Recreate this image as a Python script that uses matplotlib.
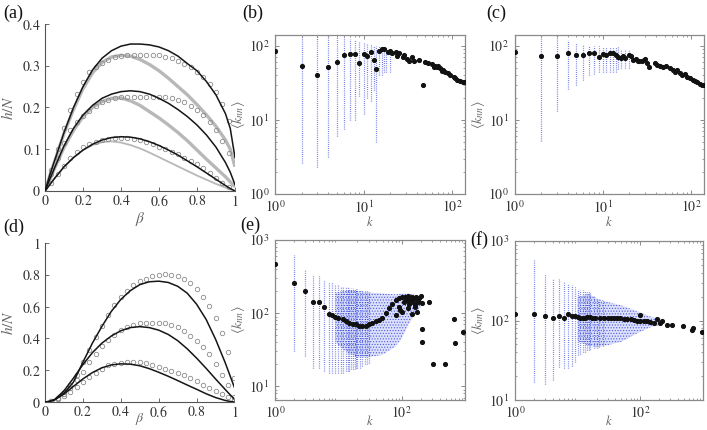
import matplotlib
matplotlib.use('Agg')
import matplotlib.pyplot as plt
from matplotlib.ticker import FixedLocator, FixedFormatter, LogLocator, NullFormatter

plt.rcParams['font.family'] = ['Liberation Serif', 'DejaVu Serif']
plt.rcParams['mathtext.fontset'] = 'stix'
plt.rcParams['hatch.linewidth'] = 0.5

# ---------------- data: panels (a) and (d) ----------------
beta_grid = [0, 0.025, 0.05, 0.1, 0.15, 0.2, 0.25, 0.3, 0.35, 0.4, 0.45, 0.5,
             0.55, 0.6, 0.65, 0.7, 0.75, 0.8, 0.85, 0.9, 0.95, 0.975, 1.0]

a_black_top = [0, 0.038, 0.072, 0.14, 0.2, 0.25, 0.29, 0.318, 0.336, 0.347, 0.352, 0.352,
               0.35, 0.345, 0.336, 0.323, 0.305, 0.288, 0.262, 0.23, 0.185, 0.15, 0.08]
a_black_mid = [0, 0.028, 0.055, 0.108, 0.15, 0.182, 0.205, 0.222, 0.232, 0.238, 0.24, 0.238,
               0.232, 0.222, 0.21, 0.195, 0.178, 0.158, 0.134, 0.105, 0.068, 0.045, 0.015]
a_black_bot = [0, 0.015, 0.03, 0.058, 0.08, 0.098, 0.112, 0.122, 0.128, 0.13, 0.129, 0.125,
               0.118, 0.109, 0.098, 0.086, 0.072, 0.058, 0.043, 0.028, 0.013, 0.006, 0.0]
a_gray_top = [0, 0.036, 0.07, 0.138, 0.195, 0.245, 0.283, 0.308, 0.321, 0.325, 0.323, 0.315,
              0.303, 0.288, 0.27, 0.25, 0.23, 0.207, 0.182, 0.155, 0.122, 0.1, 0.058]
a_gray_mid = [0, 0.027, 0.054, 0.104, 0.145, 0.178, 0.2, 0.214, 0.222, 0.223, 0.216, 0.205,
              0.19, 0.175, 0.158, 0.14, 0.12, 0.098, 0.076, 0.055, 0.034, 0.022, 0.01]
a_gray_bot = [0, 0.015, 0.03, 0.057, 0.08, 0.098, 0.11, 0.117, 0.119, 0.116, 0.11, 0.102,
              0.092, 0.081, 0.07, 0.059, 0.048, 0.037, 0.027, 0.017, 0.008, 0.004, 0.0]

beta_circ_a = [j / 30 for j in range(1, 30)]
a_circ_top = [0.05, 0.1, 0.15, 0.195, 0.232, 0.262, 0.284, 0.296, 0.306, 0.314, 0.32, 0.323,
              0.325, 0.326, 0.326, 0.326, 0.326, 0.325, 0.322, 0.318, 0.312, 0.304, 0.296,
              0.284, 0.272, 0.256, 0.236, 0.208, 0.168]
a_circ_mid = [0.04, 0.08, 0.115, 0.145, 0.165, 0.18, 0.192, 0.204, 0.214, 0.219, 0.223, 0.225,
              0.226, 0.226, 0.226, 0.226, 0.226, 0.226, 0.224, 0.222, 0.218, 0.212, 0.204,
              0.194, 0.182, 0.166, 0.146, 0.12, 0.09]
a_circ_bot = [0.02, 0.04, 0.06, 0.078, 0.094, 0.105, 0.112, 0.118, 0.122, 0.125, 0.126, 0.126,
              0.126, 0.125, 0.122, 0.118, 0.112, 0.106, 0.1, 0.094, 0.088, 0.08, 0.072,
              0.064, 0.054, 0.044, 0.032, 0.02, 0.01]

d_black_top = [0, 0.003, 0.012, 0.055, 0.125, 0.25, 0.37, 0.475, 0.57, 0.645, 0.7, 0.738,
               0.756, 0.76, 0.752, 0.728, 0.685, 0.615, 0.52, 0.395, 0.25, 0.17, 0.09]
d_black_mid = [0, 0.004, 0.015, 0.07, 0.15, 0.235, 0.31, 0.37, 0.415, 0.448, 0.468, 0.474,
               0.468, 0.452, 0.425, 0.386, 0.335, 0.276, 0.212, 0.145, 0.08, 0.048, 0.018]
d_black_bot = [0, 0.004, 0.014, 0.05, 0.098, 0.145, 0.185, 0.215, 0.233, 0.24, 0.238, 0.228,
               0.21, 0.187, 0.162, 0.135, 0.107, 0.08, 0.052, 0.028, 0.01, 0.004, 0.0]

beta_circ_d = [j / 30 for j in range(1, 31)]
d_circ_top = [0.006, 0.025, 0.06, 0.11, 0.17, 0.25, 0.33, 0.41, 0.48, 0.55, 0.61, 0.66, 0.70,
              0.735, 0.76, 0.775, 0.792, 0.8, 0.802, 0.8, 0.794, 0.775, 0.75, 0.708, 0.663,
              0.604, 0.531, 0.433, 0.3125, 0.15]
d_circ_mid = [0.005, 0.02, 0.05, 0.09, 0.14, 0.19, 0.25, 0.3, 0.35, 0.39, 0.42, 0.45, 0.47,
              0.485, 0.494, 0.498, 0.5, 0.5, 0.496, 0.485, 0.469, 0.444, 0.417, 0.385, 0.348,
              0.302, 0.24, 0.167, 0.104, 0.031]
d_circ_bot = [0.005, 0.02, 0.04, 0.065, 0.095, 0.125, 0.155, 0.185, 0.21, 0.233, 0.24, 0.244,
              0.25, 0.25, 0.25, 0.244, 0.233, 0.223, 0.208, 0.198, 0.181, 0.167, 0.152, 0.131,
              0.11, 0.09, 0.069, 0.052, 0.031, 0.01]

# ---------------- data: panel (b) ----------------
b_k = [1, 2, 3, 4, 5, 6, 7, 8, 9, 10, 11, 12, 13, 14, 15, 16, 17, 19, 20, 21, 23, 24, 25,
       28, 29, 31, 33, 35, 37, 42, 47, 49, 54, 59, 62, 64, 67, 70, 73, 76, 80, 83, 91, 95,
       104, 108, 113, 124, 133, 140]
b_knn = [86, 54, 40.5, 51, 60, 76, 78, 78, 58, 78, 72, 82, 65, 48, 85, 92, 90, 82, 85, 80,
         83, 72, 80, 70, 76, 67, 63, 70, 63, 65, 30, 60, 59, 57, 51, 54, 51, 54, 50, 46, 47,
         45, 43, 41, 38, 36.5, 34.5, 33, 32.7, 32]
b_col_k = [1, 2, 3, 4, 5, 6, 7, 8, 9, 10, 11, 12, 13, 14, 15, 16, 17, 18, 20]
b_col_lo = [2.0, 2.6, 2.3, 3.2, 6, 7.5, 10, 10, 21, 12, 20, 18, 25, 5, 40, 40, 45, 45, 45]
b_col_hi = [150, 150, 150, 140, 135, 130, 125, 120, 115, 110, 105, 105, 100, 100, 100, 95,
            95, 95, 92]

# ---------------- data: panel (c) ----------------
c_k = [1, 2, 3, 4, 5, 6, 7, 8, 9, 10, 11, 12, 13, 14, 15, 16, 17, 18, 20, 21, 22, 24, 25,
       26, 28, 29, 30, 32, 33, 39, 41, 44, 48, 52, 57, 63, 66, 70, 74, 79, 85, 91, 97, 104,
       110, 118, 125, 133, 140]
c_knn = [83, 72, 72, 80, 75, 75, 80, 79, 70, 78, 76, 79, 80, 75, 70, 68, 72, 68, 76, 72, 65,
         67, 63, 63, 63, 65, 66, 59, 51, 59, 55, 53, 51, 53, 50, 47, 45, 47, 43, 41, 42, 38.5,
         37, 34.5, 33, 32.7, 31, 29.5, 30]
c_col_k = [1, 2, 3, 4, 5, 6, 7, 8, 9, 10, 11, 12, 13, 14, 15, 16, 18, 20]
c_col_lo = [4.5, 5.2, 13, 26, 30, 35, 40, 42, 45, 45, 45, 45, 45, 45, 48, 50, 50, 50]
c_col_hi = [150, 150, 150, 120, 110, 105, 100, 100, 100, 95, 95, 95, 95, 95, 95, 92, 92, 90]

# ---------------- data: panel (e) ----------------
e_k = [1, 2, 3, 4, 5, 6, 7, 8, 9, 10, 12, 13, 15, 17, 19, 21, 24, 27, 30, 34, 39, 44, 49,
       56, 63, 71, 80, 90, 101, 114, 128, 145, 164, 184, 208, 174, 145, 80, 101, 128, 164,
       90, 110, 120, 140, 150, 170, 190, 200, 95, 130, 160, 180,
       270, 208, 208, 316, 480, 674, 705, 930]
e_knn = [474, 260, 202, 144, 144, 121, 98, 95, 90, 86, 83, 77, 73, 72, 70, 67, 66, 67, 70,
         73, 77, 80, 86, 100, 117, 134, 151, 159, 164, 168, 171, 168, 159, 151, 139, 105, 98,
         95, 105, 117, 130,
         120, 140, 150, 150, 140, 165, 160, 170, 110, 135, 120, 140,
         144, 60, 40, 20, 20, 83, 39, 55]
e_col_k = [2, 3, 4, 5, 6, 7, 8, 9, 10, 11, 12, 13, 14, 15, 16, 17, 18, 19, 20, 22, 24, 26,
           28, 30]
e_col_lo = [30, 26, 18, 18, 16, 15, 15, 15, 15, 15, 15, 16, 16, 16, 17, 17, 17, 18, 18, 18,
            19, 20, 20, 21]
e_col_hi = [615, 385, 330, 320, 282, 270, 260, 250, 240, 235, 230, 228, 225, 222, 220, 218,
            216, 215, 214, 210, 205, 200, 198, 195]
e_env_k = [9, 12, 15, 20, 30, 50, 80, 100, 130, 160, 200]
e_env_lo = [40, 32, 28, 25, 25, 27, 35, 45, 70, 95, 120]
e_env_hi = [190, 200, 205, 200, 192, 186, 180, 185, 185, 178, 150]

# ---------------- data: panel (f) ----------------
f_k = [1, 2, 3, 4, 5, 6, 7, 8, 9, 10, 11, 12, 13, 14, 16, 17, 19, 23, 26, 30, 34, 38, 43,
       48, 55, 62, 70, 78, 88, 100, 100, 113, 127, 145, 163, 183, 207, 220, 264, 316, 480,
       656, 695, 980]
f_knn = [120, 119, 113, 109, 113, 108, 121, 113, 115, 110, 109, 108, 109, 111, 110, 106, 106,
         106, 107, 108, 107, 108, 107, 106, 105, 104, 103, 101, 100, 117, 99, 98, 98, 96, 94,
         104, 92, 98, 88, 88, 86, 76, 80, 72]
f_col_k = [1, 2, 3, 4, 5, 6, 7, 8, 9, 10, 11, 12, 13, 14, 15, 16, 18, 20, 22, 25]
f_col_lo = [43, 17, 16, 18, 26, 25, 25, 27, 30, 37, 38, 40, 40, 42, 43, 44, 45, 45, 47, 48]
f_col_hi = [180, 590, 385, 333, 330, 302, 290, 280, 265, 250, 245, 240, 235, 230, 228, 220,
            205, 187, 180, 175]
f_env_k = [10, 15, 20, 30, 50, 80, 100, 150, 200]
f_env_lo = [55, 48, 46, 49, 54, 66, 72, 83, 87]
f_env_hi = [200, 215, 190, 172, 155, 135, 126, 111, 106]

# ---------------- figure ----------------
W, H = 707, 430
fig = plt.figure(figsize=(W / 100, H / 100), dpi=100)


def rect(x0, x1, ytop, ybot):
    return [x0 / W, 1 - ybot / H, (x1 - x0) / W, (ybot - ytop) / H]


label_color = '#666666'
blue = '#2e3fd6'


def itl(strs):
    return [r'$\mathit{%s}$' % s for s in strs]


def style_lin(ax, xt, yt):
    for s in ['top', 'right']:
        ax.spines[s].set_visible(False)
    for s in ['left', 'bottom']:
        ax.spines[s].set_color('#555555')
        ax.spines[s].set_linewidth(0.8)
    ax.xaxis.set_major_locator(FixedLocator([float(v) for v in xt]))
    ax.xaxis.set_major_formatter(FixedFormatter(itl(xt)))
    ax.yaxis.set_major_locator(FixedLocator([float(v) for v in yt]))
    ax.yaxis.set_major_formatter(FixedFormatter(itl(yt)))
    ax.tick_params(direction='in', length=3, width=0.6, colors='#555555',
                   labelcolor='#333333', labelsize=10, pad=3)
    ax.tick_params(axis='x', pad=2)


def logfmt(exps):
    return [r'$\mathit{10}^{\mathit{%d}}$' % e for e in exps]


def style_log(ax, xexp, yexp, xlabelpad):
    ax.set_xscale('log')
    ax.set_yscale('log')
    for s in ax.spines.values():
        s.set_color('#8a8a8a')
        s.set_linewidth(0.9)
    ax.xaxis.set_major_locator(FixedLocator([10.0 ** e for e in xexp]))
    ax.xaxis.set_major_formatter(FixedFormatter(logfmt(xexp)))
    ax.yaxis.set_major_locator(FixedLocator([10.0 ** e for e in yexp]))
    ax.yaxis.set_major_formatter(FixedFormatter(logfmt(yexp)))
    ax.xaxis.set_minor_locator(LogLocator(subs=range(2, 10)))
    ax.yaxis.set_minor_locator(LogLocator(subs=range(2, 10)))
    ax.xaxis.set_minor_formatter(NullFormatter())
    ax.yaxis.set_minor_formatter(NullFormatter())
    ax.tick_params(which='both', direction='in', top=True, right=True, colors='#777777',
                   labelcolor='#333333', labelsize=10, pad=4)
    ax.tick_params(axis='x', which='both', pad=4)
    ax.tick_params(which='major', length=3, width=0.6)
    ax.tick_params(which='minor', length=1.6, width=0.5)
    ax.set_xlabel(r'$k$', fontsize=9, color=label_color, labelpad=xlabelpad)
    ax.set_ylabel(r'$\langle k_{nn}\rangle$', fontsize=10, color=label_color, labelpad=1)


def draw_cols(ax, ks, lo, hi):
    ax.vlines(ks, lo, hi, colors=blue, linestyles=(0, (0.6, 1.1)), linewidth=0.9,
              alpha=0.85, zorder=1)


def draw_env(ax, ks, lo, hi):
    ax.fill_between(ks, lo, hi, facecolor=(0.55, 0.6, 0.97, 0.3),
                    edgecolor=(0.18, 0.25, 0.85, 0.8),
                    hatch='......', linewidth=0, zorder=1)


MS = 2.7

# (a)
axa = fig.add_axes(rect(45, 235, 24, 191))
for ys in (a_gray_top, a_gray_mid):
    axa.plot(beta_grid, ys, color='#b8b8b8', lw=2.4, solid_capstyle='butt', zorder=1)
axa.plot(beta_grid, a_gray_bot, color='#b8b8b8', lw=1.3, zorder=1)
for ys in (a_circ_top, a_circ_mid, a_circ_bot):
    axa.plot(beta_circ_a, ys, 'o', ms=3.2, mfc='none', mec='#8c8c8c', mew=0.6, zorder=2)
for ys in (a_black_top, a_black_mid, a_black_bot):
    axa.plot(beta_grid, ys, color='#151515', lw=1.1, zorder=3)
axa.set_xlim(0, 1)
axa.set_ylim(0, 0.4)
style_lin(axa, ['0', '0.2', '0.4', '0.6', '0.8', '1'], ['0', '0.1', '0.2', '0.3', '0.4'])
axa.set_xlabel(r'$\beta$', fontsize=11, color=label_color, labelpad=1)
axa.set_ylabel(r'$h/N$', fontsize=11, color=label_color, labelpad=4)

# (d)
axd = fig.add_axes(rect(45, 234.5, 243, 402))
for ys in (d_circ_top, d_circ_mid, d_circ_bot):
    axd.plot(beta_circ_d, ys, 'o', ms=3.2, mfc='none', mec='#8c8c8c', mew=0.6, zorder=2)
for ys in (d_black_top, d_black_mid, d_black_bot):
    axd.plot(beta_grid, ys, color='#151515', lw=1.1, zorder=3)
axd.set_xlim(0, 1)
axd.set_ylim(0, 1)
style_lin(axd, ['0', '0.2', '0.4', '0.6', '0.8', '1'], ['0', '0.2', '0.4', '0.6', '0.8', '1'])
axd.set_xlabel(r'$\beta$', fontsize=10, color=label_color, labelpad=-6)
axd.set_ylabel(r'$h/N$', fontsize=11, color=label_color, labelpad=4)

# (b)
axb = fig.add_axes(rect(275, 465, 35, 194))
draw_cols(axb, b_col_k, b_col_lo, b_col_hi)
axb.plot(b_k, b_knn, 'o', ms=MS, color='#111111', zorder=3)
axb.set_xlim(1, 140)
axb.set_ylim(1, 140)
style_log(axb, [0, 1, 2], [0, 1, 2], -1)

# (c)
axc = fig.add_axes(rect(514.5, 704, 35, 194))
draw_cols(axc, c_col_k, c_col_lo, c_col_hi)
axc.plot(c_k, c_knn, 'o', ms=MS, color='#111111', zorder=3)
axc.set_xlim(1, 140)
axc.set_ylim(1, 140)
style_log(axc, [0, 1, 2], [0, 1, 2], -1)

# (e)
axe = fig.add_axes(rect(275, 465, 240, 400))
draw_env(axe, e_env_k, e_env_lo, e_env_hi)
draw_cols(axe, e_col_k, e_col_lo, e_col_hi)
axe.plot(e_k, e_knn, 'o', ms=MS, color='#111111', zorder=3)
axe.set_xlim(1, 1000)
axe.set_ylim(6.5, 1000)
style_log(axe, [0, 2], [1, 2, 3], -5)

# (f)
axf = fig.add_axes(rect(515, 703, 241, 400))
draw_env(axf, f_env_k, f_env_lo, f_env_hi)
draw_cols(axf, f_col_k, f_col_lo, f_col_hi)
axf.plot(f_k, f_knn, 'o', ms=MS, color='#111111', zorder=3)
axf.set_xlim(1, 1000)
axf.set_ylim(10, 1000)
style_log(axf, [0, 2], [1, 2, 3], -5)

# panel letters
for lab, x, y in [('(a)', 3, 18), ('(b)', 242, 18), ('(c)', 486, 18),
                  ('(d)', 3, 232), ('(e)', 240, 230), ('(f)', 470, 245)]:
    fig.text(x / W, 1 - y / H, lab, fontsize=13, family='Liberation Serif',
             color='#111111', va='baseline', ha='left')

fig.savefig('out.png', dpi=100)
